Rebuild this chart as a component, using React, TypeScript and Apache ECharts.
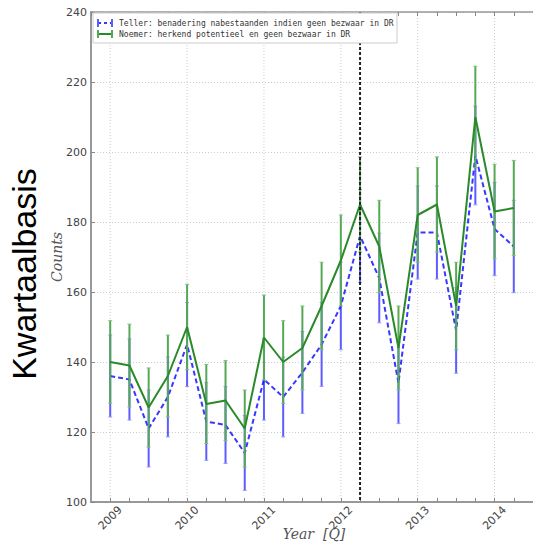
import React, { useEffect, useRef } from "react";
import * as echarts from "echarts";

const quarters = [
  2009, 2009.25, 2009.5, 2009.75, 2010, 2010.25, 2010.5, 2010.75, 2011, 2011.25, 2011.5,
  2011.75, 2012, 2012.25, 2012.5, 2012.75, 2013, 2013.25, 2013.5, 2013.75, 2014, 2014.25,
];
const tellerValues = [136, 135, 121, 130, 145, 123, 122, 114, 135, 130, 137, 145, 156, 176, 164, 134, 177, 177, 149, 199, 178, 173];
const tellerErrors = [11.7, 11.6, 11.0, 11.4, 12.0, 11.1, 11.0, 10.7, 11.6, 11.4, 11.7, 12.0, 12.5, 13.3, 12.8, 11.6, 13.3, 13.3, 12.2, 14.1, 13.3, 13.2];
const noemerValues = [140, 139, 127, 136, 150, 128, 129, 121, 147, 140, 144, 156, 169, 185, 173, 144, 182, 185, 156, 210, 183, 184];
const noemerErrors = [11.8, 11.8, 11.3, 11.7, 12.2, 11.3, 11.4, 11.0, 12.1, 11.8, 12.0, 12.5, 13.0, 13.6, 13.2, 12.0, 13.5, 13.6, 12.5, 14.5, 13.5, 13.6];
const yearTicks = [2009, 2010, 2011, 2012, 2013, 2014];
const markerQuarter = [2012.25];
const tellerLabel = "Teller: benadering nabestaanden indien geen bezwaar in DR";
const noemerLabel = "Noemer: herkend potentieel en geen bezwaar in DR";

const BLUE_BAR = "#5c5cff";
const BLUE_CAP = "#9a9aff";
const BLUE_LINE = "rgba(20,20,255,0.85)";
const GREEN_BAR = "#55a855";
const GREEN_CAP = "#7cbf7c";
const GREEN_LINE = "#2a8a2a";

function errorBarSeries(values: number[], errors: number[], color: string, capColor: string, z: number) {
  return {
    type: "custom",
    z,
    silent: true,
    encode: { x: 0, y: 1 },
    data: quarters.map((q, i) => [q, values[i], errors[i]]),
    renderItem: (params: any, api: any) => {
      const x = api.value(0);
      const y = api.value(1);
      const e = api.value(2);
      const top = api.coord([x, y + e]);
      const bot = api.coord([x, y - e]);
      const cap = 2;
      return {
        type: "group",
        children: [
          { type: "line", shape: { x1: top[0], y1: top[1], x2: bot[0], y2: bot[1] }, style: { stroke: color, lineWidth: 2 } },
          { type: "line", shape: { x1: top[0] - cap, y1: top[1], x2: top[0] + cap, y2: top[1] }, style: { stroke: capColor, lineWidth: 1 } },
          { type: "line", shape: { x1: bot[0] - cap, y1: bot[1], x2: bot[0] + cap, y2: bot[1] }, style: { stroke: capColor, lineWidth: 1 } },
        ],
      };
    },
  };
}

function vLineSeries(xs: number[], stroke: string, width: number, dash: number[], z: number) {
  return {
    type: "custom",
    z,
    silent: true,
    encode: { x: 0, y: 1 },
    data: xs.map((v) => [v, 100]),
    renderItem: (params: any, api: any) => {
      const cs = params.coordSys;
      const px = api.coord([api.value(0), 100])[0];
      return {
        type: "line",
        shape: { x1: px, y1: cs.y, x2: px, y2: cs.y + cs.height },
        style: { stroke, lineWidth: width, lineDash: dash },
      };
    },
  };
}

export default function App() {
  const ref = useRef<HTMLDivElement>(null);
  useEffect(() => {
    if (!ref.current) return;
    const chart = echarts.init(ref.current, null, { renderer: "svg" });
    const axisLineStyle = { color: "#999", width: 2 };
    chart.setOption({
      animation: false,
      backgroundColor: "#fff",
      grid: { left: 91, top: 12, width: 444, height: 490, containLabel: false },
      xAxis: [
        {
          type: "value",
          position: "bottom",
          min: 2008.75,
          max: 2014.5,
          interval: 0.25,
          axisLine: { show: true, lineStyle: axisLineStyle },
          axisTick: { show: true, inside: true, length: 4, lineStyle: { color: "#888" } },
          splitLine: { show: false },
          axisLabel: {
            show: true,
            rotate: 45,
            align: "center",
            verticalAlign: "middle",
            margin: 16,
            padding: [0, 0, 0, 0],
            fontFamily: "DejaVu Sans",
            fontSize: 11,
            color: "#444",
            showMinLabel: false,
            showMaxLabel: false,
            formatter: (v: number) => (Math.abs(v - Math.round(v)) < 1e-6 ? String(Math.round(v)) : ""),
          },
        },
        {
          type: "value",
          position: "top",
          min: 2008.75,
          max: 2014.5,
          interval: 0.25,
          axisLine: { show: true, lineStyle: { color: "#999", width: 1.5 } },
          axisTick: { show: true, inside: true, length: 4, lineStyle: { color: "#888" } },
          splitLine: { show: false },
          axisLabel: { show: false },
        },
      ],
      yAxis: {
        type: "value",
        min: 100,
        max: 240,
        interval: 20,
        axisLine: { show: true, lineStyle: axisLineStyle },
        axisTick: { show: true, inside: true, length: 4, lineStyle: { color: "#888" } },
        splitLine: { show: true, lineStyle: { type: [1, 2], color: "#ccc", width: 1 } },
        axisLabel: { fontFamily: "DejaVu Sans", fontSize: 11, color: "#444", margin: 4 },
      },
      series: [
        vLineSeries(yearTicks, "#ccc", 1, [1, 2], 0),
        errorBarSeries(tellerValues, tellerErrors, BLUE_BAR, BLUE_CAP, 1),
        {
          type: "line",
          z: 2,
          silent: true,
          symbol: "none",
          data: quarters.map((q, i) => [q, tellerValues[i]]),
          lineStyle: { color: BLUE_LINE, width: 2, type: [5, 3] },
        },
        errorBarSeries(noemerValues, noemerErrors, GREEN_BAR, GREEN_CAP, 3),
        {
          type: "line",
          z: 4,
          silent: true,
          symbol: "none",
          data: quarters.map((q, i) => [q, noemerValues[i]]),
          lineStyle: { color: GREEN_LINE, width: 2 },
        },
        vLineSeries(markerQuarter, "#222", 2, [3, 2], 5),
      ],
      graphic: [
        {
          type: "rect",
          z: 100,
          shape: { x: 93, y: 13, width: 304, height: 30 },
          style: { fill: "#fff", stroke: "#ccc", lineWidth: 1 },
        },
        { type: "line", z: 101, shape: { x1: 98, y1: 23, x2: 112, y2: 23 }, style: { stroke: BLUE_LINE, lineWidth: 2, lineDash: [3, 3] } },
        { type: "line", z: 101, shape: { x1: 98, y1: 19, x2: 98, y2: 27 }, style: { stroke: BLUE_BAR, lineWidth: 2 } },
        { type: "line", z: 101, shape: { x1: 112, y1: 19, x2: 112, y2: 27 }, style: { stroke: BLUE_BAR, lineWidth: 2 } },
        { type: "line", z: 101, shape: { x1: 98, y1: 34, x2: 112, y2: 34 }, style: { stroke: GREEN_LINE, lineWidth: 2 } },
        { type: "line", z: 101, shape: { x1: 98, y1: 30, x2: 98, y2: 38 }, style: { stroke: GREEN_BAR, lineWidth: 2 } },
        { type: "line", z: 101, shape: { x1: 112, y1: 30, x2: 112, y2: 38 }, style: { stroke: GREEN_BAR, lineWidth: 2 } },
        {
          type: "text",
          z: 101,
          x: 119,
          y: 23,
          style: { text: tellerLabel, font: "8px 'DejaVu Sans Mono'", fill: "#333", verticalAlign: "middle", align: "left" },
        },
        {
          type: "text",
          z: 101,
          x: 119,
          y: 34,
          style: { text: noemerLabel, font: "8px 'DejaVu Sans Mono'", fill: "#333", verticalAlign: "middle", align: "left" },
        },
        {
          type: "text",
          x: 57,
          y: 257,
          rotation: Math.PI / 2,
          style: { text: "Counts", font: "italic 14px 'DejaVu Serif'", fill: "#555", align: "center", verticalAlign: "middle" },
        },
        {
          type: "text",
          x: 314,
          y: 534,
          style: { text: "Year  [Q]", font: "italic 14px 'DejaVu Serif'", fill: "#555", align: "center", verticalAlign: "middle" },
        },
        {
          type: "text",
          x: 24,
          y: 274,
          rotation: Math.PI / 2,
          style: { text: "Kwartaalbasis", font: "34px 'Liberation Sans'", fill: "#000", align: "center", verticalAlign: "middle" },
        },
      ],
    });
    return () => chart.dispose();
  }, []);
  return <div ref={ref} style={{ position: "absolute", left: 0, top: 0, width: 533, height: 555 }} />;
}
